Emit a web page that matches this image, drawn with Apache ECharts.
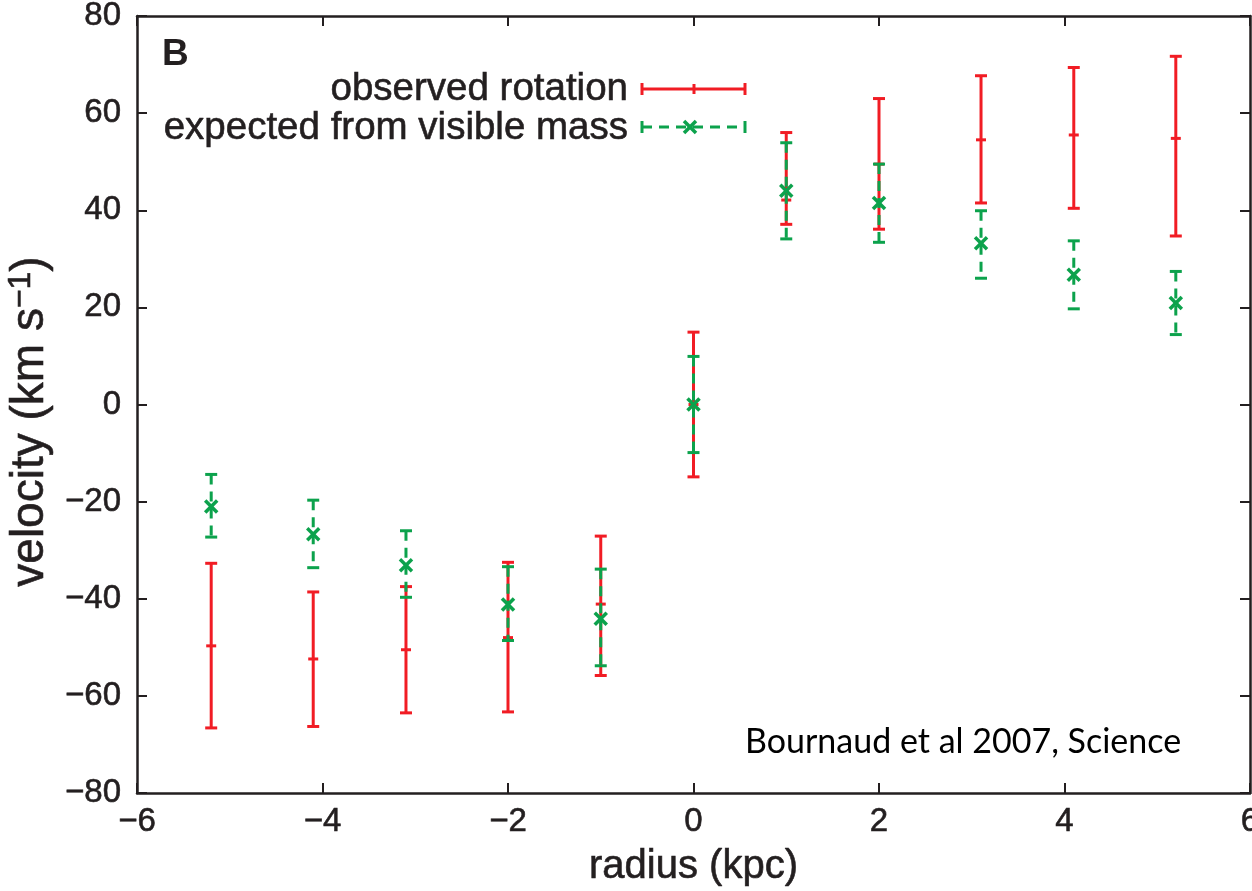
<!DOCTYPE html>
<html>
<head>
<meta charset="utf-8">
<script src="https://cdn.jsdelivr.net/npm/echarts@6/dist/echarts.min.js"></script>
<style>
html,body{margin:0;padding:0;background:#fff;}
#chart{width:1252px;height:891px;}
</style>
</head>
<body>
<div id="chart"></div>
<script>
// ---- data ----
const radius   = [-5.2, -4.1, -3.1, -2.0, -1.0, 0, 1.0, 2.0, 3.1, 4.1, 5.2];
const obsV     = [-49.7, -52.4, -50.5, -48.0, -41.1, 0, 42.1, 49.5, 54.5, 55.5, 54.8];
const obsHigh  = [-32.7, -38.6, -37.5, -32.5, -27.1, 14.9, 56.0, 63.0, 67.7, 69.4, 71.7];
const obsLow   = [-66.6, -66.3, -63.5, -63.3, -55.8, -14.9, 37.1, 36.1, 41.5, 40.4, 34.7];
const expV     = [-21.0, -26.7, -33.1, -41.2, -44.1, 0, 44.0, 41.5, 33.2, 26.7, 20.9];
const expHigh  = [-14.4, -19.7, -26.0, -33.4, -33.9, 9.9, 53.9, 49.5, 39.9, 33.7, 27.4];
const expLow   = [-27.3, -33.6, -39.7, -48.6, -53.8, -9.9, 34.1, 33.4, 26.0, 19.7, 14.4];
const xTicks   = {min: -6, max: 6, interval: 2};
const yTicks   = {min: -80, max: 80, interval: 20};
const legendNames = ['observed rotation', 'expected from visible mass'];
const panelLabel = 'B';
const citation = 'Bournaud et al 2007, Science';

const RED = '#f11c24';
const GREEN = '#0ca24c';
const AX = '#231f20';
const FONT = '"Liberation Sans", Arial, Helvetica, sans-serif';
const EMB = {textBorderColor: AX, textBorderWidth: 0.6};

const obsData = radius.map((r, i) => [r, obsV[i], obsLow[i], obsHigh[i]]);
const expData = radius.map((r, i) => [r, expV[i], expLow[i], expHigh[i]]);

function minusFmt(v) { return String(v).replace('-', '\u2212'); }

function errItem(kind) {
  return function (params, api) {
    const x = api.value(0), v = api.value(1), lo = api.value(2), hi = api.value(3);
    const pc = api.coord([x, v]);
    const pl = api.coord([x, lo]);
    const ph = api.coord([x, hi]);
    const color = kind === 'obs' ? RED : GREEN;
    const cw = 6;
    const base = {stroke: color, lineWidth: 3};
    const children = [];
    children.push({type: 'line', shape: {x1: ph[0], y1: ph[1], x2: pl[0], y2: pl[1]},
      style: Object.assign({}, base, kind === 'exp' ? {lineDash: [10, 7]} : {})});
    children.push({type: 'line', shape: {x1: ph[0] - cw, y1: ph[1], x2: ph[0] + cw, y2: ph[1]}, style: base});
    children.push({type: 'line', shape: {x1: pl[0] - cw, y1: pl[1], x2: pl[0] + cw, y2: pl[1]}, style: base});
    if (kind === 'obs') {
      children.push({type: 'line', shape: {x1: pc[0] - 5, y1: pc[1], x2: pc[0] + 5, y2: pc[1]}, style: base});
    } else {
      const m = 6;
      const s = {stroke: color, lineWidth: 3.5};
      children.push({type: 'line', shape: {x1: pc[0] - m, y1: pc[1] - m, x2: pc[0] + m, y2: pc[1] + m}, style: s});
      children.push({type: 'line', shape: {x1: pc[0] - m, y1: pc[1] + m, x2: pc[0] + m, y2: pc[1] - m}, style: s});
    }
    return {type: 'group', children: children};
  };
}

function axisCommon(extra) {
  return Object.assign({
    type: 'value',
    axisLine: {show: true, onZero: false, lineStyle: {color: AX, width: 2.5}},
    axisTick: {show: true, inside: true, length: 10, lineStyle: {color: AX, width: 2}},
    splitLine: {show: false},
  }, extra);
}

const chart = echarts.init(document.getElementById('chart'), null, {renderer: 'canvas'});
const option = {
  backgroundColor: '#fff',
  animation: false,
  grid: {left: 137, right: 2, top: 16, bottom: 98, containLabel: false, outerBoundsMode: 'none'},
  xAxis: [
    axisCommon({
      position: 'bottom', min: xTicks.min, max: xTicks.max, interval: xTicks.interval,
      axisLabel: Object.assign({show: true, fontSize: 33, color: AX, margin: 12, fontFamily: FONT, formatter: minusFmt,
        showMinLabel: true, showMaxLabel: true, hideOverlap: false}, EMB),
      name: 'radius (kpc)', nameLocation: 'middle', nameGap: 54,
      nameTextStyle: Object.assign({fontSize: 40, color: AX, fontFamily: FONT}, EMB)
    }),
    axisCommon({
      position: 'top', min: xTicks.min, max: xTicks.max, interval: xTicks.interval,
      axisLabel: {show: false}
    })
  ],
  yAxis: [
    axisCommon({
      position: 'left', min: yTicks.min, max: yTicks.max, interval: yTicks.interval,
      axisLabel: Object.assign({show: true, fontSize: 33, color: AX, margin: 16, fontFamily: FONT, formatter: minusFmt}, EMB),
      name: 'velocity (km s{sup|\u22121})', nameLocation: 'middle', nameGap: 56,
      nameTextStyle: Object.assign({fontSize: 46, color: AX, fontFamily: FONT, padding: [0, 34, 0, 0],
        rich: {sup: Object.assign({fontSize: 32, color: AX, fontFamily: FONT, verticalAlign: 'top', padding: [0, 0, 18, 0]}, EMB)}}, EMB)
    }),
    axisCommon({
      position: 'right', min: yTicks.min, max: yTicks.max, interval: yTicks.interval,
      axisLabel: {show: false}
    })
  ],
  series: [
    {type: 'custom', name: legendNames[0], xAxisIndex: 0, yAxisIndex: 0,
      renderItem: errItem('obs'), data: obsData, encode: {x: 0, y: [1, 2, 3]}, clip: false, z: 2},
    {type: 'custom', name: legendNames[1], xAxisIndex: 0, yAxisIndex: 0,
      renderItem: errItem('exp'), data: expData, encode: {x: 0, y: [1, 2, 3]}, clip: false, z: 3}
  ],
  graphic: [
    {type: 'text', left: 162, top: 36, style: {text: panelLabel, font: 'bold 37px ' + FONT, fill: AX}},
    {type: 'text', x: 628, y: 89, style: {text: legendNames[0], font: '38.5px ' + FONT, fill: AX, stroke: AX, lineWidth: 0.6, textAlign: 'right', textVerticalAlign: 'middle'}},
    {type: 'text', x: 628, y: 128, style: {text: legendNames[1], font: '38.5px ' + FONT, fill: AX, stroke: AX, lineWidth: 0.6, textAlign: 'right', textVerticalAlign: 'middle'}},
    // legend samples
    {type: 'line', shape: {x1: 642, y1: 89, x2: 745, y2: 89}, style: {stroke: RED, lineWidth: 3}},
    {type: 'line', shape: {x1: 642, y1: 83, x2: 642, y2: 95}, style: {stroke: RED, lineWidth: 3}},
    {type: 'line', shape: {x1: 745, y1: 83, x2: 745, y2: 95}, style: {stroke: RED, lineWidth: 3}},
    {type: 'line', shape: {x1: 694, y1: 84, x2: 694, y2: 94}, style: {stroke: RED, lineWidth: 3}},
    {type: 'line', shape: {x1: 642, y1: 127, x2: 745, y2: 127}, style: {stroke: GREEN, lineWidth: 3, lineDash: [10, 7]}},
    {type: 'line', shape: {x1: 642, y1: 121, x2: 642, y2: 133}, style: {stroke: GREEN, lineWidth: 3}},
    {type: 'line', shape: {x1: 745, y1: 121, x2: 745, y2: 133}, style: {stroke: GREEN, lineWidth: 3}},
    {type: 'line', shape: {x1: 684, y1: 121, x2: 696, y2: 133}, style: {stroke: GREEN, lineWidth: 3.5}},
    {type: 'line', shape: {x1: 684, y1: 133, x2: 696, y2: 121}, style: {stroke: GREEN, lineWidth: 3.5}},
    {type: 'text', x: 745, y: 742, style: {text: citation, font: '34px Lato, "Open Sans", sans-serif', fill: '#000', textAlign: 'left', textVerticalAlign: 'middle'}}
  ]
};
chart.setOption(option);
</script>
</body>
</html>
